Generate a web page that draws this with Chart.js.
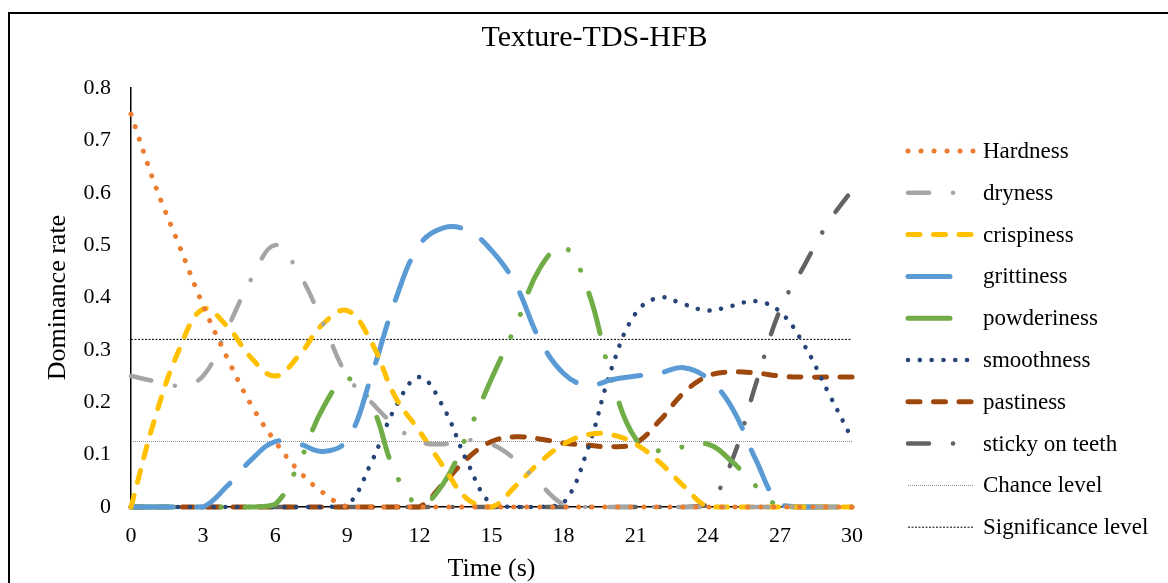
<!DOCTYPE html>
<html>
<head>
<meta charset="utf-8">
<title>Texture-TDS-HFB</title>
<script src="https://cdn.jsdelivr.net/npm/chart.js@4.4.1/dist/chart.umd.min.js"></script>
<style>
  html, body { margin: 0; padding: 0; background: #fff; overflow: hidden; }
  canvas { display: block; }
</style>
</head>
<body>
<canvas id="tdsChart" width="1168" height="583"></canvas>
<script>
// time in seconds
const times = [0, 1, 2, 3, 4, 5, 6, 7, 8, 9, 10, 11, 12, 13, 14, 15, 16, 17, 18, 19, 20, 21, 22, 23, 24, 25, 26, 27, 28, 29, 30];

const hardness    = [0.75, 0.615, 0.50, 0.385, 0.285, 0.195, 0.125, 0.068, 0.027, 0, 0, 0, 0, 0, 0, 0, 0, 0, 0, 0, 0, 0, 0, 0, 0, 0, 0, 0, 0, 0, 0];
const dryness     = [0.25, 0.24, 0.232, 0.25, 0.34, 0.435, 0.5, 0.445, 0.35, 0.25, 0.2, 0.155, 0.125, 0.12, 0.128, 0.12, 0.09, 0.045, 0.005, 0, 0, 0, 0, 0, 0, 0, 0, 0, 0, 0, 0];
const crispiness  = [0, 0.17, 0.30, 0.378, 0.345, 0.285, 0.25, 0.29, 0.35, 0.375, 0.315, 0.21, 0.145, 0.077, 0.015, 0, 0.04, 0.085, 0.12, 0.138, 0.138, 0.12, 0.085, 0.04, 0, 0, 0, 0, 0, 0, 0];
const grittiness  = [0, 0, 0, 0, 0.04, 0.09, 0.125, 0.12, 0.106, 0.128, 0.25, 0.395, 0.5, 0.533, 0.528, 0.49, 0.425, 0.32, 0.255, 0.232, 0.243, 0.25, 0.256, 0.266, 0.245, 0.19, 0.09, 0.005, 0, 0, 0];
const powderiness = [0, 0, 0, 0, 0, 0, 0.005, 0.085, 0.19, 0.245, 0.195, 0.065, 0.005, 0.045, 0.14, 0.245, 0.345, 0.455, 0.497, 0.415, 0.245, 0.13, 0.107, 0.115, 0.12, 0.087, 0.04, 0, 0, 0, 0];
const smoothness  = [0, 0, 0, 0, 0, 0, 0, 0, 0, 0.003, 0.085, 0.19, 0.248, 0.19, 0.085, 0.005, 0, 0, 0.008, 0.11, 0.265, 0.37, 0.4, 0.387, 0.375, 0.384, 0.393, 0.373, 0.31, 0.22, 0.13];
const pastiness   = [0, 0, 0, 0, 0, 0, 0, 0, 0, 0, 0, 0, 0, 0.045, 0.093, 0.125, 0.134, 0.13, 0.122, 0.118, 0.115, 0.122, 0.165, 0.218, 0.25, 0.258, 0.256, 0.25, 0.248, 0.248, 0.248];
const sticky      = [0, 0, 0, 0, 0, 0, 0, 0, 0, 0, 0, 0, 0, 0, 0, 0, 0, 0, 0, 0, 0, 0, 0, 0, 0.005, 0.088, 0.235, 0.376, 0.46, 0.542, 0.605];

const chanceLevel = 0.125;
const significanceLevel = 0.32;

const xTicks = [0, 3, 6, 9, 12, 15, 18, 21, 24, 27, 30];
const yTicks = [0, 0.1, 0.2, 0.3, 0.4, 0.5, 0.6, 0.7, 0.8];

const serif = '"Liberation Serif", "Times New Roman", serif';

function pts(values) {
  return times.map((t, i) => ({ x: t, y: values[i] }));
}
function flat(v) {
  return [{ x: times[0], y: v }, { x: times[times.length - 1], y: v }];
}

const datasets = [
  { label: 'Hardness', data: pts(hardness), borderColor: '#ED7D31', borderWidth: 5, borderDash: [0.1, 12.9], borderCapStyle: 'round' },
  { label: 'dryness', data: pts(dryness), borderColor: '#A5A5A5', borderWidth: 4.5, borderDash: [21, 24, 0.1, 24], borderCapStyle: 'round' },
  { label: 'crispiness', data: pts(crispiness), borderColor: '#FFC000', borderWidth: 5, borderDash: [12, 13.5], borderCapStyle: 'round' },
  { label: 'grittiness', data: pts(grittiness), borderColor: '#5B9BD5', borderWidth: 5, borderDash: [42, 24], borderCapStyle: 'round' },
  { label: 'powderiness', data: pts(powderiness), borderColor: '#70AD47', borderWidth: 5, borderDash: [42, 24, 0.1, 24, 0.1, 24], borderCapStyle: 'round' },
  { label: 'smoothness', data: pts(smoothness), borderColor: '#264478', borderWidth: 4.5, borderDash: [0.1, 11.7], borderCapStyle: 'round' },
  { label: 'pastiness', data: pts(pastiness), borderColor: '#9E480E', borderWidth: 5, borderDash: [12, 13.5], borderCapStyle: 'round' },
  { label: 'sticky on teeth', data: pts(sticky), borderColor: '#636363', borderWidth: 4.5, borderDash: [21, 24, 0.1, 24], borderCapStyle: 'round' },
  { label: 'Chance level', data: flat(chanceLevel), borderColor: '#8c8c8c', borderWidth: 1, borderDash: [1, 1], tension: 0 },
  { label: 'Significance level', data: flat(significanceLevel), borderColor: '#000000', borderWidth: 1, borderDash: [2, 1.5], tension: 0 }
];

// frame round the chart, like the exported figure
const framePlugin = {
  id: 'frame',
  beforeDraw(chart) {
    const ctx = chart.ctx;
    ctx.save();
    ctx.fillStyle = '#fff';
    ctx.fillRect(0, 0, chart.width, chart.height);
    ctx.strokeStyle = '#000';
    ctx.lineWidth = 2;
    ctx.strokeRect(9, 13, chart.width + 20, chart.height + 20);
    ctx.restore();
  }
};

// legend on the right, each entry drawn with its own line style
const sideLegend = {
  id: 'sideLegend',
  afterDraw(chart) {
    const ctx = chart.ctx;
    ctx.save();
    chart.data.datasets.forEach((ds, i) => {
      const y = 151 + i * 41.8;
      ctx.beginPath();
      ctx.setLineDash(ds.borderDash || []);
      ctx.lineCap = ds.borderCapStyle || 'butt';
      ctx.lineWidth = ds.borderWidth;
      ctx.strokeStyle = ds.borderColor;
      ctx.moveTo(908, y);
      ctx.lineTo(973, y);
      ctx.stroke();
      ctx.setLineDash([]);
      ctx.fillStyle = '#000';
      ctx.font = '23px ' + serif;
      ctx.textAlign = 'left';
      ctx.textBaseline = 'middle';
      ctx.fillText(ds.label, 983, y + 1);
    });
    ctx.restore();
  }
};

new Chart(document.getElementById('tdsChart'), {
  type: 'line',
  data: { datasets },
  options: {
    responsive: false,
    animation: false,
    devicePixelRatio: 1,
    layout: { padding: { left: 21, right: 0, top: 0, bottom: 0 } },
    elements: {
      point: { radius: 0, hoverRadius: 0 },
      line: { tension: 0.4, fill: false }
    },
    datasets: { line: { clip: false } },
    plugins: {
      legend: { display: false },
      tooltip: { enabled: false },
      title: {
        display: true,
        text: 'Texture-TDS-HFB',
        color: '#000',
        font: { family: serif, size: 30, weight: 'normal' },
        padding: { top: 20, bottom: 32 }
      }
    },
    scales: {
      x: {
        type: 'linear',
        min: 0,
        max: 30,
        afterBuildTicks: s => { s.ticks = xTicks.map(v => ({ value: v })); },
        afterFit: s => { s.height = 76; },
        grid: { display: false, drawTicks: false },
        border: { display: true, color: '#000', width: 1.5 },
        ticks: { color: '#000', padding: 16, font: { family: serif, size: 22 }, maxRotation: 0 },
        title: {
          display: true,
          text: 'Time (s)',
          color: '#000',
          font: { family: serif, size: 26 },
          padding: { top: 0, bottom: -2 }
        }
      },
      y: {
        min: 0,
        max: 0.8,
        afterBuildTicks: s => { s.ticks = yTicks.map(v => ({ value: v })); },
        afterFit: s => { s.width = 110; },
        grid: { display: false, drawTicks: false },
        border: { display: true, color: '#000', width: 1.5 },
        ticks: {
          color: '#000',
          padding: 20,
          font: { family: serif, size: 22 },
          callback: v => (v === 0 ? '0' : v.toFixed(1))
        },
        title: {
          display: true,
          text: 'Dominance rate',
          color: '#000',
          font: { family: serif, size: 26 },
          padding: { top: 22, bottom: 0 }
        }
      },
      // empty right-hand axis that only reserves the room for the legend
      legendSpace: {
        type: 'linear',
        position: 'right',
        min: 0,
        max: 0.8,
        afterFit: s => { s.width = 316; },
        grid: { display: false, drawTicks: false },
        border: { display: false },
        ticks: { display: false }
      }
    }
  },
  plugins: [framePlugin, sideLegend]
});
</script>
</body>
</html>
